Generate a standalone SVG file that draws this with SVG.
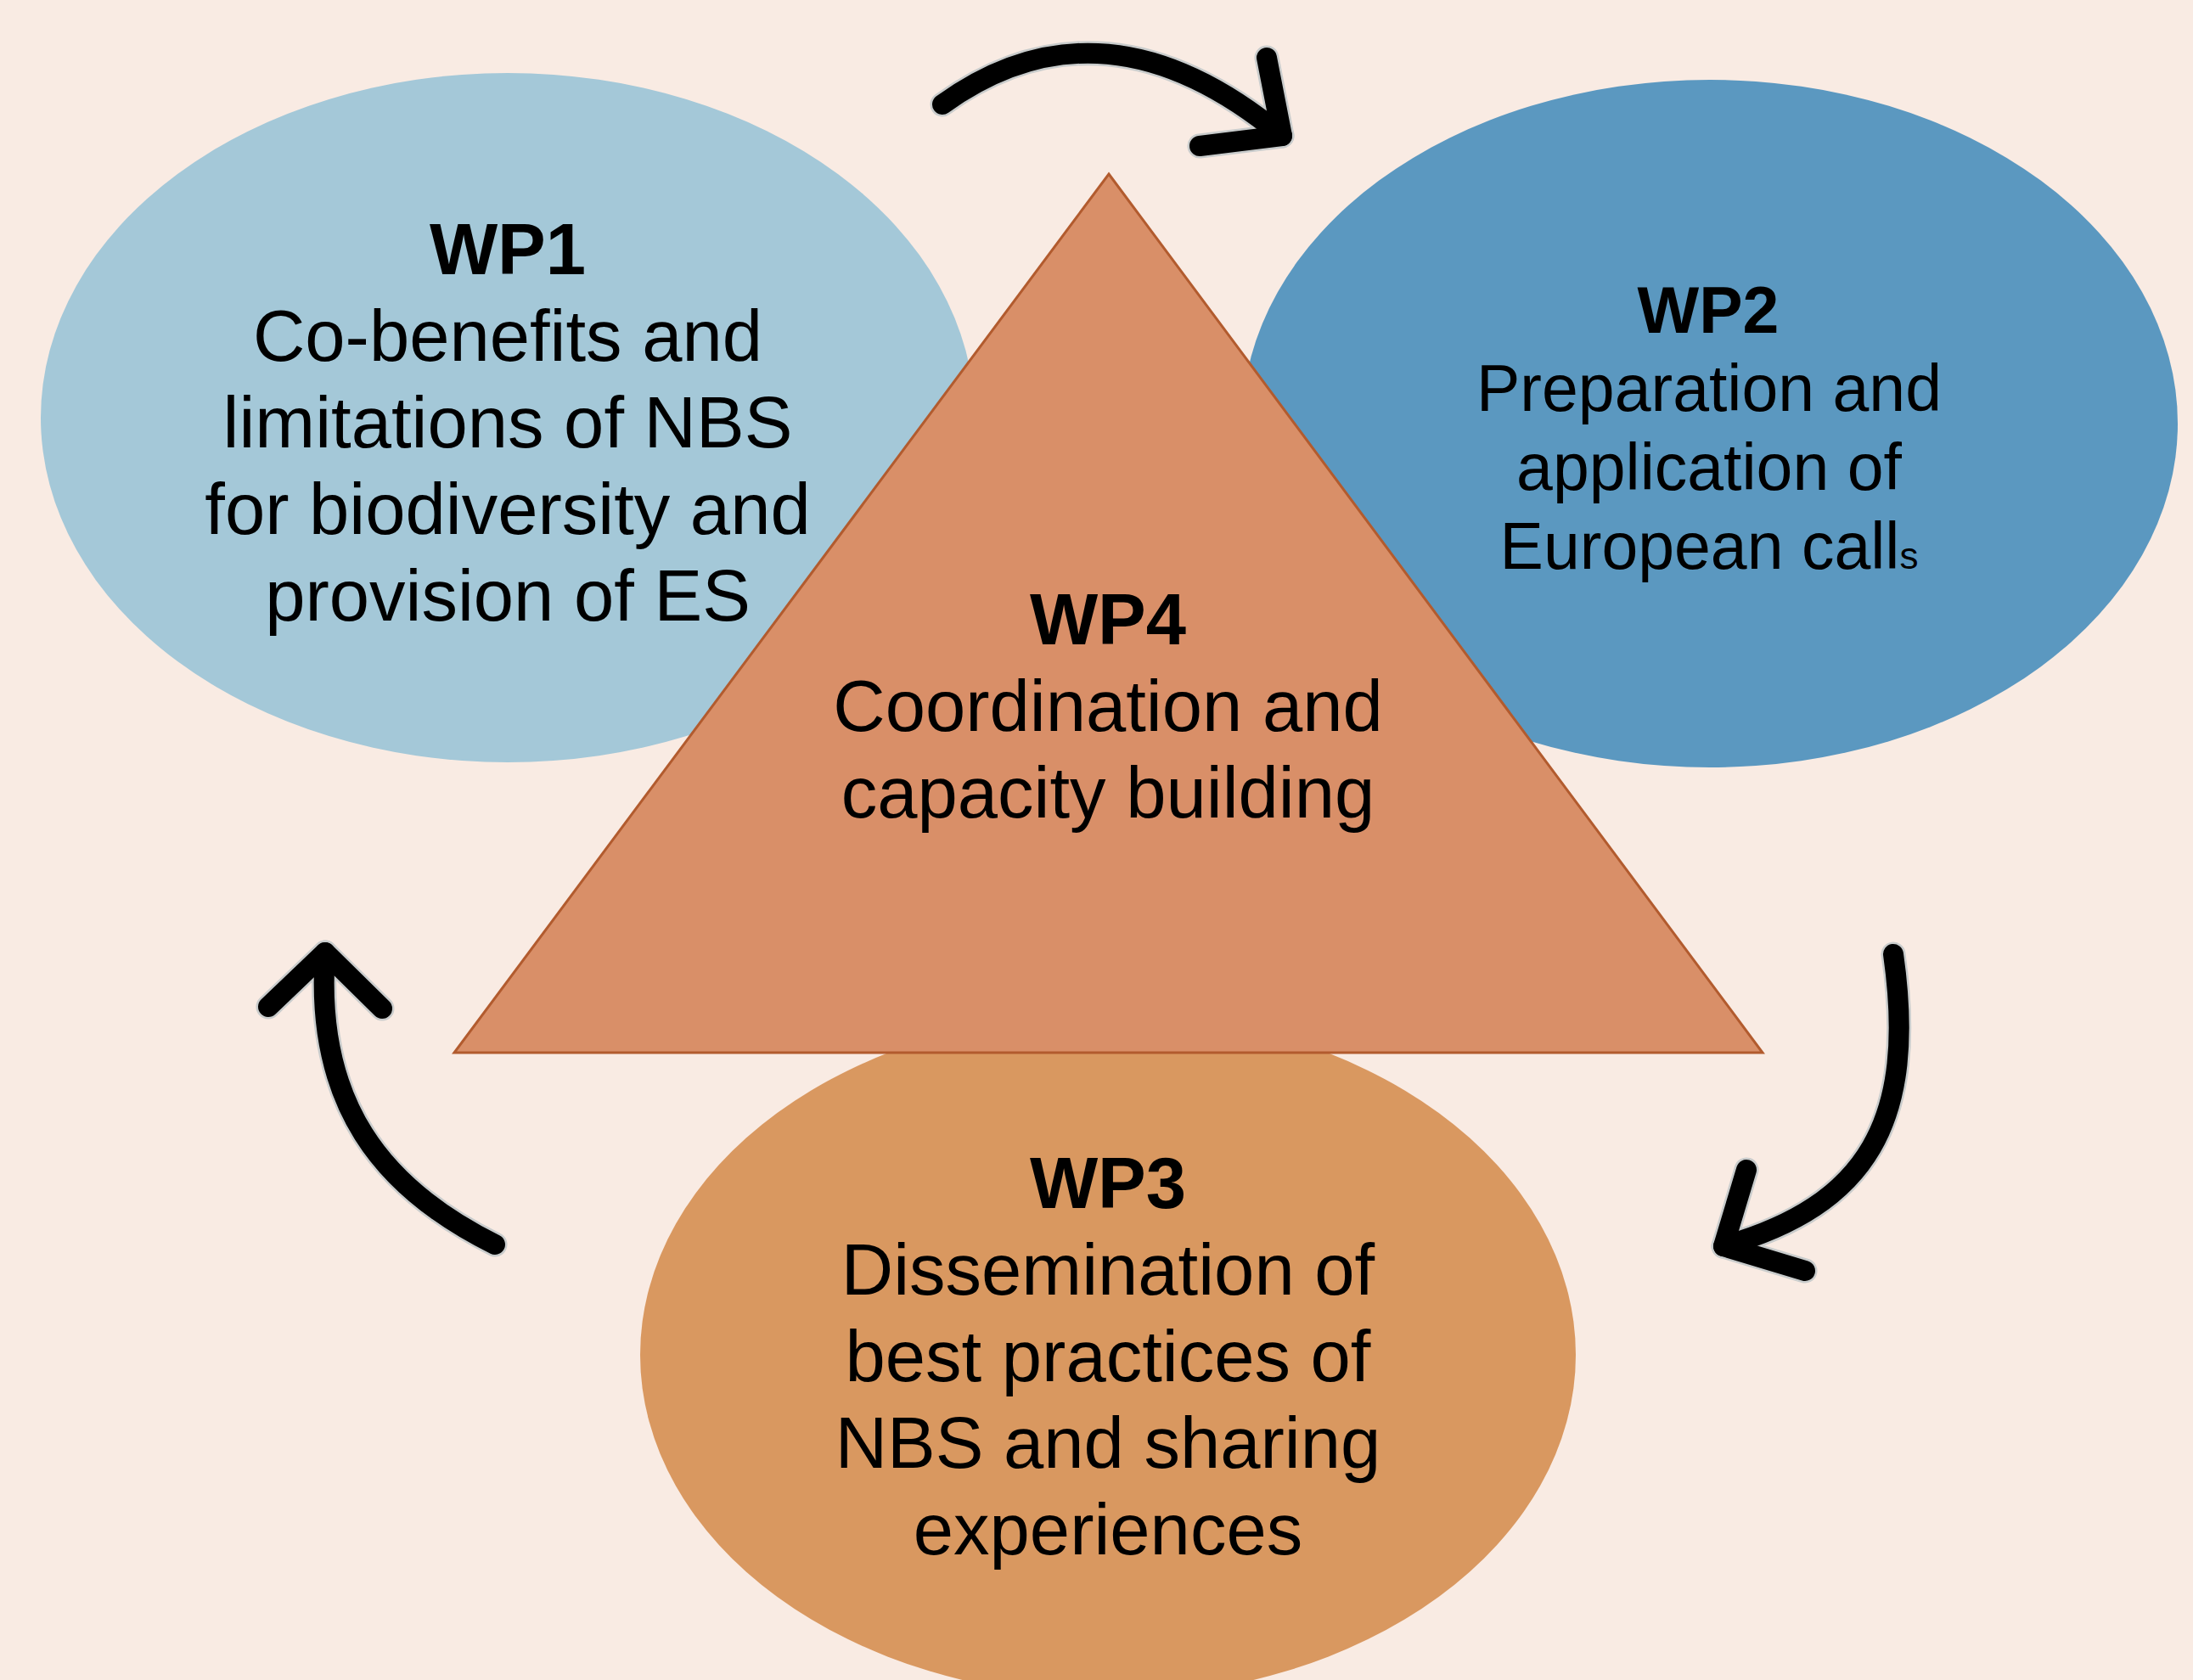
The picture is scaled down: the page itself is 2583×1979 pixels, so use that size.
<svg xmlns="http://www.w3.org/2000/svg" width="2583" height="1979" viewBox="0 0 2583 1979">
<style>
.t{font-family:"Liberation Sans",Arial,sans-serif;fill:#000;text-anchor:middle}
.h{font-weight:bold}
.arr{fill:none;stroke:#000;stroke-width:24;stroke-linecap:round;stroke-linejoin:round}
.halo{fill:none;stroke:#c9cccc;stroke-width:29;stroke-linecap:round;stroke-linejoin:round}
</style>
<rect x="0" y="0" width="2583" height="1979" fill="#F9EBE3"/>
<g id="wp1">
<ellipse cx="598" cy="492" rx="550" ry="406" fill="#A4C8D8"/>
</g>
<g id="wp2">
<ellipse cx="2014" cy="499" rx="551" ry="405" fill="#5B98C0"/>
</g>
<g id="wp3">
<ellipse cx="1305" cy="1596" rx="551" ry="403" fill="#D99860"/>
</g>
<g id="wp4">
<polygon points="1306,205 2076,1240 535,1240" fill="#D98F68" stroke="#B25B2E" stroke-width="3" stroke-linejoin="miter"/>
</g>
<g id="wp1-text" class="t" font-size="85">
<text x="598" y="323" class="t h">WP1</text>
<text x="598" y="425" class="t">Co-benefits and</text>
<text x="598" y="527" class="t">limitations of NBS</text>
<text x="598" y="629" class="t">for biodiversity and</text>
<text x="598" y="731" class="t">provision of ES</text>
</g>
<g id="wp2-text" class="t" font-size="77">
<text x="2012" y="392" class="t h">WP2</text>
<text x="2013" y="484" class="t">Preparation and</text>
<text x="2013" y="577" class="t">application of</text>
<text x="2013" y="670" class="t">European call<tspan font-size="44">s</tspan></text>
</g>
<g id="wp4-text" class="t" font-size="85">
<text x="1305" y="759" class="t h">WP4</text>
<text x="1305" y="861" class="t">Coordination and</text>
<text x="1305" y="963" class="t">capacity building</text>
</g>
<g id="wp3-text" class="t" font-size="85">
<text x="1305" y="1423" class="t h">WP3</text>
<text x="1305" y="1525" class="t">Dissemination of</text>
<text x="1305" y="1627" class="t">best practices of</text>
<text x="1305" y="1729" class="t">NBS and sharing</text>
<text x="1305" y="1831" class="t">experiences</text>
</g>
<g id="connectors">
<g class="halo">
<path d="M1110,123 Q1300,-14 1510,160"/>
<path d="M1492,68 L1510,160 L1413,172"/>
<path d="M2230,1124 C2258,1320 2200,1420 2030,1468"/>
<path d="M2057,1378 L2030,1468 L2126,1497"/>
<path d="M583,1466 C450,1400 370,1300 383,1122"/>
<path d="M316,1186 L383,1122 L450,1188"/>
</g>
<g class="arr">
<path d="M1110,123 Q1300,-14 1510,160"/>
<path d="M1492,68 L1510,160 L1413,172"/>
<path d="M2230,1124 C2258,1320 2200,1420 2030,1468"/>
<path d="M2057,1378 L2030,1468 L2126,1497"/>
<path d="M583,1466 C450,1400 370,1300 383,1122"/>
<path d="M316,1186 L383,1122 L450,1188"/>
</g>
</g>
</svg>
